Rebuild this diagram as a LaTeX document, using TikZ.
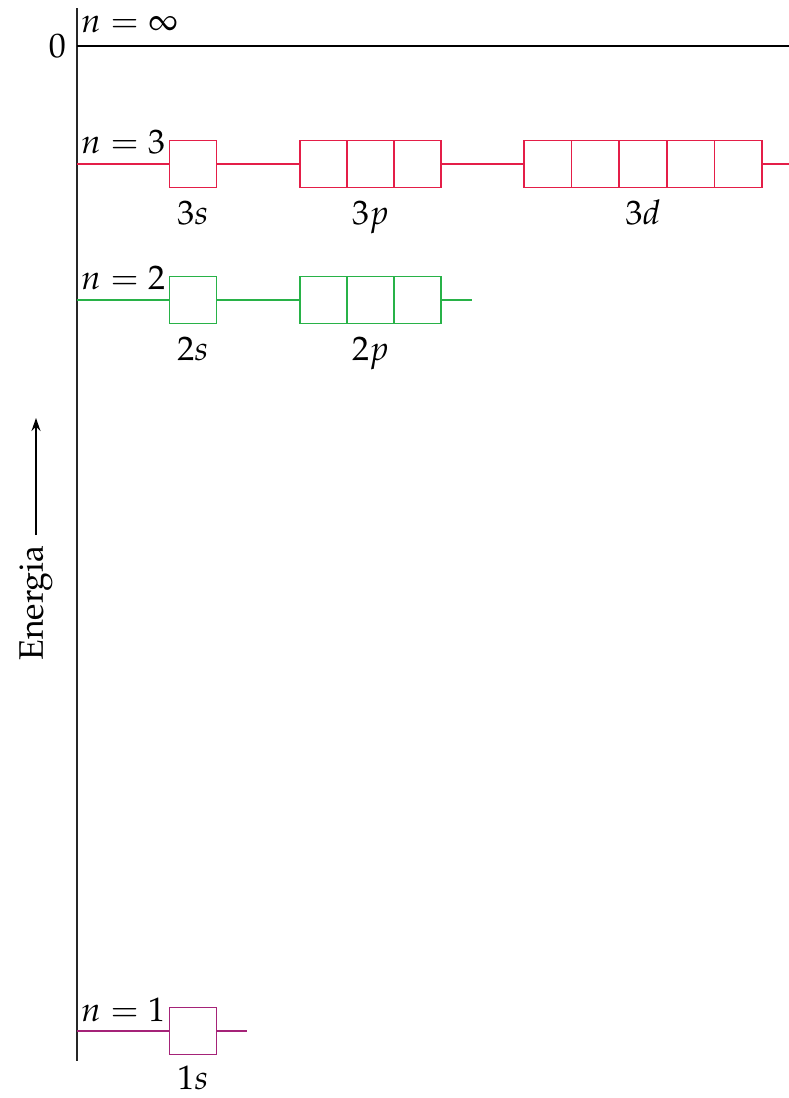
\documentclass[tikz,border=0pt]{standalone}
\usepackage[T1]{fontenc}
\usepackage{mathpazo}
\usetikzlibrary{positioning,arrows.meta}

\definecolor{shellthree}{RGB}{228,30,72}
\definecolor{shelltwo}{RGB}{40,178,72}
\definecolor{shellone}{RGB}{165,35,120}

\begin{document}
\begin{tikzpicture}[
        x=1pt, y=-1pt,
        every node/.style={align=center},
        lab/.style={font=\fontsize{34}{38}\selectfont, inner sep=0pt},
        orb/.style={draw, line width=1.7pt, minimum width=47pt, minimum height=47pt, inner sep=0pt, outer sep=0pt},
        orbthree/.style={orb, draw=shellthree},
        orbd/.style={orbthree, minimum width=47.6pt},
        orbtwo/.style={orb, draw=shelltwo},
        orbone/.style={orb, draw=shellone},
        lvlthree/.style={line width=1.7pt, shellthree},
        lvltwo/.style={line width=1.7pt, shelltwo},
        lvlone/.style={line width=1.7pt, shellone},
        axis/.style={line width=2pt, black!85}
    ]
    \useasboundingbox (0,0) rectangle (789,1098);

    % Energy axis
    \coordinate (axtop) at (77,8);
    \coordinate (axbot) at (77,1061);
    \draw[axis] (axtop) -- (axbot);

    % Zero level (n = infinity)
    \coordinate (ax0) at (77,46);
    \coordinate (end0) at (789,46);
    \draw[line width=1.8pt] (ax0) -- (end0);
    \node[lab, anchor=east] (zero) at (66,46) {0};
    \node[lab, anchor=base west] (ninf) at (81,32) {$n = \infty$};

    % Shell n = 3
    \coordinate (ax3) at (77,164);
    \coordinate (end3) at (789,164);
    \node[orbthree] (s3) at (193,164) {};
    \node[orbthree] (p3a) at (323.5,164) {};
    \node[orbthree, right=0pt of p3a] (p3b) {};
    \node[orbthree, right=0pt of p3b] (p3c) {};
    \node[orbd] (d3a) at (547.8,164) {};
    \node[orbd, right=0pt of d3a] (d3b) {};
    \node[orbd, right=0pt of d3b] (d3c) {};
    \node[orbd, right=0pt of d3c] (d3d) {};
    \node[orbd, right=0pt of d3d] (d3e) {};
    \draw[lvlthree] (ax3) -- (s3);
    \draw[lvlthree] (s3) -- (p3a);
    \draw[lvlthree] (p3c) -- (d3a);
    \draw[lvlthree] (d3e) -- (end3);
    \node[lab, anchor=base west] (n3) at (81,153) {$n = 3$};
    \node[lab, anchor=base] (l3s) at ([yshift=-37pt]s3.south) {3$s$};
    \node[lab, anchor=base] (l3p) at ([yshift=-37pt]p3b.south) {3$p$};
    \node[lab, anchor=base] (l3d) at ([yshift=-37pt]d3c.south) {3$d$};

    % Shell n = 2
    \coordinate (ax2) at (77,300);
    \coordinate (end2) at (472,300);
    \node[orbtwo] (s2) at (193,300) {};
    \node[orbtwo] (p2a) at (323.5,300) {};
    \node[orbtwo, right=0pt of p2a] (p2b) {};
    \node[orbtwo, right=0pt of p2b] (p2c) {};
    \draw[lvltwo] (ax2) -- (s2);
    \draw[lvltwo] (s2) -- (p2a);
    \draw[lvltwo] (p2c) -- (end2);
    \node[lab, anchor=base west] (n2) at (81,289) {$n = 2$};
    \node[lab, anchor=base] (l2s) at ([yshift=-37pt]s2.south) {2$s$};
    \node[lab, anchor=base] (l2p) at ([yshift=-37pt]p2b.south) {2$p$};

    % Shell n = 1
    \coordinate (ax1) at (77,1031);
    \coordinate (end1) at (247,1031);
    \node[orbone] (s1) at (193,1031) {};
    \draw[lvlone] (ax1) -- (s1);
    \draw[lvlone] (s1) -- (end1);
    \node[lab, anchor=base west] (n1) at (81,1021) {$n = 1$};
    \node[lab, anchor=base] (l1s) at ([yshift=-35pt]s1.south) {1$s$};

    % Energy label
    \node[lab, rotate=90] (energia) at (36,603) {Energia};
    \coordinate (entip) at (36,418);
    \draw[line width=1.4pt, -{Stealth[length=13pt, width=9pt]}] (energia.east) ++(0,-10) -- (entip);

\end{tikzpicture}
\end{document}
